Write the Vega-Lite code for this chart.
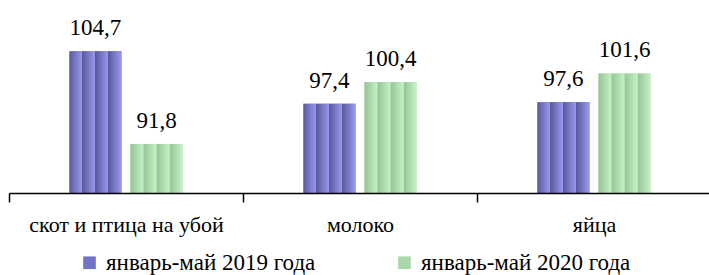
{
  "$schema": "https://vega.github.io/schema/vega-lite/v6.json",
  "width": 702,
  "height": 193,
  "autosize": {"type": "none"},
  "padding": {"left": 9, "top": 0, "right": 0, "bottom": 82},
  "background": "white",
  "config": {"view": {"stroke": null}, "font": "Times New Roman, Liberation Serif, DejaVu Serif, serif"},
  "data": {
    "values": [
      {"category": "скот и птица на убой", "period": "январь-май 2019 года", "value": 104.7, "label": "104,7"},
      {"category": "скот и птица на убой", "period": "январь-май 2020 года", "value": 91.8, "label": "91,8"},
      {"category": "молоко", "period": "январь-май 2019 года", "value": 97.4, "label": "97,4"},
      {"category": "молоко", "period": "январь-май 2020 года", "value": 100.4, "label": "100,4"},
      {"category": "яйца", "period": "январь-май 2019 года", "value": 97.6, "label": "97,6"},
      {"category": "яйца", "period": "январь-май 2020 года", "value": 101.6, "label": "101,6"}
    ]
  },
  "encoding": {
    "x": {
      "field": "category", "type": "nominal", "sort": null,
      "scale": {"paddingInner": 0, "paddingOuter": 0},
      "axis": {
        "title": null, "labelAngle": 0, "labelFont": "Times New Roman, Liberation Serif, DejaVu Serif, serif", "labelFontSize": 22,
        "labelLimit": 0, "labelColor": "black", "labelPadding": 12, "domainColor": "black", "domainWidth": 1.5,
        "tickColor": "black", "tickWidth": 1.5, "tickSize": 9, "tickBand": "extent", "zindex": 1
      }
    },
    "xOffset": {
      "field": "period", "type": "nominal",
      "scale": {"paddingInner": 0.148, "paddingOuter": 0.99}
    },
    "y": {
      "field": "value", "type": "quantitative",
      "scale": {"domain": [85, 111.8], "zero": false, "nice": false},
      "axis": null
    }
  },
  "layer": [
    {
      "mark": {"type": "bar"},
      "encoding": {
        "y2": {"datum": 85},
        "color": {
          "field": "period", "type": "nominal",
          "scale": {"range": ["#7373c8", "#a9d9a9"]},
          "legend": {
            "title": null, "orient": "none", "direction": "horizontal",
            "legendX": 69, "legendY": 251, "symbolType": "square", "symbolSize": 160,
            "symbolStrokeWidth": 0, "symbolOpacity": 1,
            "labelFont": "Times New Roman, Liberation Serif, DejaVu Serif, serif", "labelFontSize": 23, "labelColor": "black",
            "labelLimit": 0, "labelOffset": 5, "columnPadding": 77, "padding": 0
          }
        }
      }
    },
    {
      "transform": [{"filter": "datum.period === 'январь-май 2019 года'"}],
      "mark": {
        "type": "bar",
        "fill": {
          "gradient": "linear", "x1": 0, "x2": 1, "y1": 0, "y2": 0,
          "stops": [
            {"offset": 0, "color": "#5a5a9e"}, {"offset": 0.249, "color": "#9a9af2"},
            {"offset": 0.25, "color": "#5a5a9e"}, {"offset": 0.499, "color": "#9a9af2"},
            {"offset": 0.5, "color": "#5a5a9e"}, {"offset": 0.749, "color": "#9a9af2"},
            {"offset": 0.75, "color": "#5a5a9e"}, {"offset": 1, "color": "#9a9af2"}
          ]
        }
      },
      "encoding": {"y2": {"datum": 85}}
    },
    {
      "transform": [{"filter": "datum.period === 'январь-май 2020 года'"}],
      "mark": {
        "type": "bar",
        "fill": {
          "gradient": "linear", "x1": 0, "x2": 1, "y1": 0, "y2": 0,
          "stops": [
            {"offset": 0, "color": "#97c497"}, {"offset": 0.249, "color": "#c6f3c6"},
            {"offset": 0.25, "color": "#97c497"}, {"offset": 0.499, "color": "#c6f3c6"},
            {"offset": 0.5, "color": "#97c497"}, {"offset": 0.749, "color": "#c6f3c6"},
            {"offset": 0.75, "color": "#97c497"}, {"offset": 1, "color": "#c6f3c6"}
          ]
        }
      },
      "encoding": {"y2": {"datum": 85}}
    },
    {
      "mark": {"type": "text", "baseline": "alphabetic", "dy": -16, "font": "Times New Roman, Liberation Serif, DejaVu Serif, serif", "fontSize": 23, "color": "black"},
      "encoding": {"text": {"field": "label"}}
    }
  ]
}
